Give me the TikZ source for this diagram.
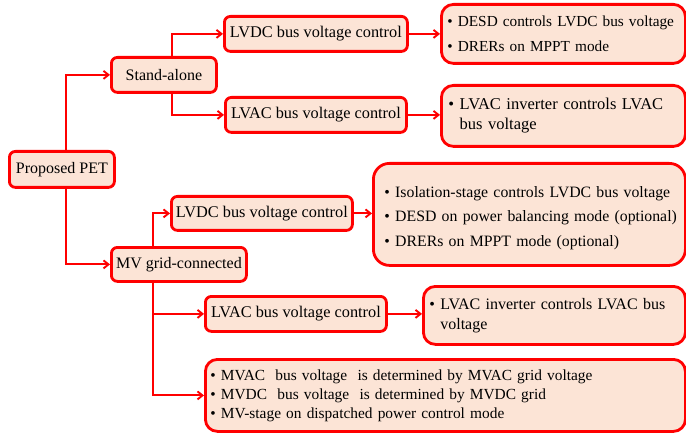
\documentclass[tikz,border=0pt]{standalone}
\usepackage{fontspec}
\setmainfont{Liberation Serif}
\usetikzlibrary{arrows.meta}
\definecolor{boxfill}{HTML}{FCE4D6}
\definecolor{boxred}{HTML}{FF0000}
\tikzset{
  box/.style={draw=boxred, line width=2.8pt, fill=boxfill, rounded corners=6pt,
    anchor=north west, inner sep=0pt, font=\fontsize{16}{19}\selectfont, align=center},
  bigbox/.style={box, rounded corners=12pt, align=left},
  conn/.style={draw=boxred, line width=1.9pt, -{Straight Barb[length=5pt,width=8pt]}},
}
\begin{document}
\begin{tikzpicture}[x=1pt,y=-1pt]
\useasboundingbox (0,0) rectangle (686,433);
% small boxes
\node[box, minimum width=105pt, minimum height=36pt] (pet) at (8,150) {Proposed PET};
\node[box, minimum width=105pt, minimum height=35pt] (sa) at (110,56) {Stand-alone};
\node[box, minimum width=183pt, minimum height=35pt, font=\fontsize{16.3}{19}\selectfont] (lvdc1) at (223,15) {LVDC bus voltage control};
\node[box, minimum width=181pt, minimum height=35pt, font=\fontsize{16.3}{19}\selectfont] (lvac1) at (224,96) {LVAC bus voltage control};
\node[box, minimum width=135pt, minimum height=34pt] (mv) at (110,246) {MV grid-connected};
\node[box, minimum width=181pt, minimum height=34pt, font=\fontsize{16.3}{19}\selectfont] (lvdc2) at (170,195) {LVDC bus voltage control};
\node[box, minimum width=181pt, minimum height=35pt, font=\fontsize{16.3}{19}\selectfont] (lvac2) at (204,295) {LVAC bus voltage control};
% bullet boxes
\node[bigbox, text width=232pt, inner xsep=6pt, minimum height=59pt,
      font=\fontsize{15.3}{25}\selectfont] (desd) at (440,3)
  {\mbox{\textbullet\ DESD controls LVDC bus voltage}\\\mbox{\textbullet\ DRERs on MPPT mode}};
\node[bigbox, text width=230pt, inner xsep=7pt, minimum height=61pt,
      font=\fontsize{16.5}{20}\selectfont] (inv1) at (440,84)
  {\mbox{\textbullet\ LVAC inverter controls LVAC}\\\mbox{\hphantom{\textbullet\ }bus voltage}\\[3pt]};
\node[bigbox, rounded corners=16pt, text width=290pt, inner xsep=11pt, minimum height=102pt,
      font=\fontsize{15.8}{24.5}\selectfont] (iso) at (372,162)
  {\\[-6pt]\mbox{\textbullet\ Isolation-stage controls LVDC bus voltage}\\
   \mbox{\textbullet\ DESD on power balancing mode (optional)}\\
   \mbox{\textbullet\ DRERs on MPPT mode (optional)}};
\node[bigbox, text width=250pt, inner xsep=6pt, minimum height=58pt,
      font=\fontsize{16}{20}\selectfont] (inv2) at (422,285)
  {\mbox{\textbullet\ LVAC inverter controls LVAC bus}\\\mbox{\hphantom{\textbullet\ }voltage}\\[2pt]};
\node[bigbox, text width=470pt, inner xsep=5pt, minimum height=72pt,
      font=\fontsize{15.4}{19}\selectfont] (bot) at (204,358)
  {\mbox{\textbullet\ MVAC\ \ bus voltage\ \ is determined by MVAC grid voltage}\\
   \mbox{\textbullet\ MVDC\ \ bus voltage\ \ is determined by MVDC grid}\\
   \mbox{\textbullet\ MV-stage on dispatched power control mode}};
% connectors
\draw[conn] ([xshift=4.5pt]pet.north) |- (sa.west);
\draw[conn] ([xshift=4.5pt]pet.south) |- (mv.west);
\draw[conn] ([xshift=8.5pt]sa.north) |- (lvdc1.west);
\draw[conn] ([xshift=8.5pt]sa.south) |- (lvac1.west);
\draw[conn] ([xshift=-25.5pt]mv.north) |- (lvdc2.west);
\draw[conn] ([xshift=-25.5pt]mv.south) |- (lvac2.west);
\draw[conn] ([xshift=-25.5pt]mv.south) |- (bot.west);
\draw[conn] (lvdc1.east) -- (lvdc1.east -| desd.west);
\draw[conn] (lvac1.east) -- (lvac1.east -| inv1.west);
\draw[conn] (lvdc2.east) -- (lvdc2.east -| iso.west);
\draw[conn] (lvac2.east) -- (lvac2.east -| inv2.west);
\end{tikzpicture}
\end{document}
